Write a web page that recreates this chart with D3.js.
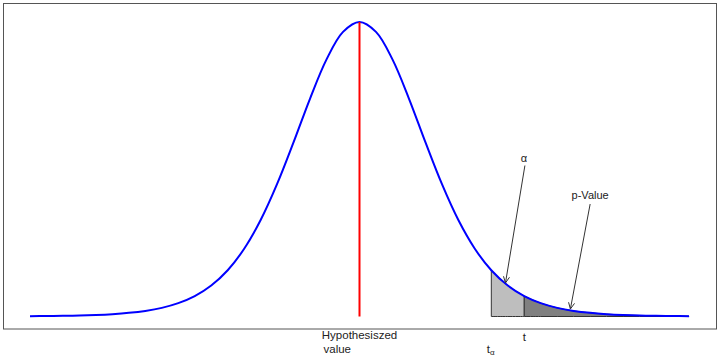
<!DOCTYPE html>
<html>
<head>
<meta charset="utf-8">
<script src="https://cdn.jsdelivr.net/npm/d3@7"></script>
<style>
  html, body { margin: 0; padding: 0; background: #fff; }
  svg { display: block; font-family: "Liberation Sans", Arial, sans-serif; }
</style>
</head>
<body>
<svg id="chart" width="720" height="360"></svg>
<script>
// ---- data ----
const xValues = [-5, -4.75, -4.5, -4.25, -4, -3.75, -3.5, -3.25, -3, -2.75, -2.5, -2.25, -2, -1.75, -1.5, -1.25, -1, -0.75, -0.5, -0.25,
  0, 0.25, 0.5, 0.75, 1, 1.25, 1.5, 1.75, 2, 2.25, 2.5, 2.75, 3, 3.25, 3.5, 3.75, 4, 4.25, 4.5, 4.75, 5];
const densityValues = [0.0004, 0.0006, 0.0009, 0.0013, 0.0020, 0.0031, 0.0048, 0.0074, 0.0114, 0.0176, 0.0269, 0.0409, 0.0611, 0.0895, 0.1274, 0.1751, 0.2303, 0.2880, 0.3397, 0.3760,
  0.3891, 0.3760, 0.3397, 0.2880, 0.2303, 0.1751, 0.1274, 0.0895, 0.0611, 0.0409, 0.0269, 0.0176, 0.0114, 0.0074, 0.0048, 0.0031, 0.0020, 0.0013, 0.0009, 0.0006, 0.0004];
const hypothesizedValue = 0;
const tAlpha = 2.0;
const tStat = 2.5;
const bottomLabels = ["Hypothesiszed", "value"];
const alphaLabel = "α";
const pValueLabel = "p-Value";
// annotation arrows: [tailX, tailY, tipX, tipY] in data units
const alphaArrow = [2.51, 0.1995, 2.215, 0.0443];
const pValueArrow = [3.50, 0.1486, 3.20, 0.0099];

const points = xValues.map((x, i) => ({ x, y: densityValues[i] }));

const svg = d3.select("#chart");
const x = d3.scaleLinear().domain([-5, 5]).range([30, 689]);
const y = d3.scaleLinear().domain([0, 0.3891]).range([316.5, 22]);

// frame
svg.append("rect").attr("x", 3.5).attr("y", 3.5).attr("width", 713).attr("height", 325.5)
  .attr("fill", "none").attr("stroke", "#555").attr("stroke-width", 1);

const curve = d3.curveCatmullRom.alpha(0.5);
const area = d3.area().x(d => x(d.x)).y0(y(0)).y1(d => y(d.y)).curve(curve);

const region1 = points.filter(d => d.x >= tAlpha && d.x <= tStat);
const region2 = points.filter(d => d.x >= tStat);

svg.append("path").datum(region1).attr("d", area)
  .attr("fill", "#bebebe").attr("stroke", "#333").attr("stroke-width", 1);
svg.append("path").datum(region2).attr("d", area)
  .attr("fill", "#808080").attr("stroke", "#333").attr("stroke-width", 1);

// curve
const line = d3.line().x(d => x(d.x)).y(d => y(d.y)).curve(curve);
svg.append("path").datum(points).attr("d", line)
  .attr("fill", "none").attr("stroke", "#0000ff").attr("stroke-width", 2);

// red hypothesized line
svg.append("line")
  .attr("x1", x(hypothesizedValue)).attr("x2", x(hypothesizedValue))
  .attr("y1", y(0)).attr("y2", y(0.3891))
  .attr("stroke", "#ff0000").attr("stroke-width", 2);

// arrows
function arrow(a) {
  const x1 = x(a[0]), y1 = y(a[1]), x2 = x(a[2]), y2 = y(a[3]);
  const g = svg.append("g").attr("stroke", "#333").attr("stroke-width", 1).attr("fill", "none");
  g.append("line").attr("x1", x1).attr("y1", y1).attr("x2", x2).attr("y2", y2);
  const ang = Math.atan2(y2 - y1, x2 - x1);
  const L = 7, spread = Math.PI / 7;
  const p1 = [x2 - L * Math.cos(ang - spread), y2 - L * Math.sin(ang - spread)];
  const p2 = [x2 - L * Math.cos(ang + spread), y2 - L * Math.sin(ang + spread)];
  g.append("path").attr("d", `M${p1[0]},${p1[1]}L${x2},${y2}L${p2[0]},${p2[1]}`);
}
arrow(alphaArrow);
arrow(pValueArrow);

// labels
svg.append("text").attr("x", x(alphaArrow[0]) - 1).attr("y", 161.5)
  .attr("text-anchor", "middle").attr("font-size", 11).attr("fill", "#222").text(alphaLabel);
svg.append("text").attr("x", x(pValueArrow[0])).attr("y", 199)
  .attr("text-anchor", "middle").attr("font-size", 11).attr("fill", "#222").text(pValueLabel);

svg.append("text").attr("x", x(hypothesizedValue)).attr("y", 339)
  .attr("text-anchor", "middle").attr("font-size", 11.5).attr("fill", "#222").text(bottomLabels[0]);
svg.append("text").attr("x", x(hypothesizedValue) - 36).attr("y", 353)
  .attr("text-anchor", "start").attr("font-size", 11.5).attr("fill", "#222").text(bottomLabels[1]);

svg.append("text").attr("x", x(tStat)).attr("y", 341)
  .attr("text-anchor", "middle").attr("font-size", 11.5).attr("fill", "#222").text("t");

const ta = svg.append("text").attr("x", x(tAlpha) - 4.5).attr("y", 352.5)
  .attr("font-size", 11.5).attr("fill", "#222");
ta.append("tspan").text("t");
ta.append("tspan").attr("font-size", 8).attr("dy", 2.5).text("α");
</script>
</body>
</html>
